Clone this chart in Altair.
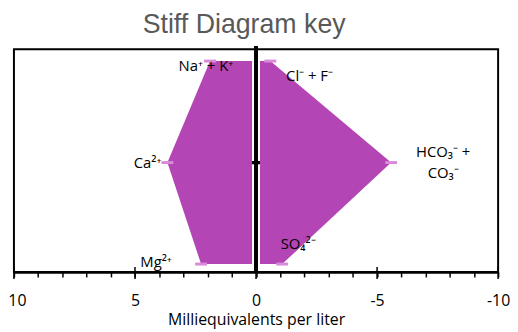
import altair as alt
import pandas as pd

# ---- data ----
rows = [2, 1, 0]                       # Na+K / Cl row, Ca / HCO3 row, Mg / SO4 row
cation_names = ["Na+K", "Ca", "Mg"]
cation_meq = [1.9, 3.66, 2.27]         # plotted to the left (positive)
anion_names = ["Cl+F", "HCO3+CO3", "SO4"]
anion_meq = [-0.59, -5.58, -1.08]      # plotted to the right (negative)

label_text = ["Na⁺ + K⁺", "Ca²⁺", "Mg²⁺", "Cl⁻ + F⁻", "HCO₃⁻ +", "CO₃⁻", "SO₄²⁻"]
label_x = [2.07, 4.48, 4.13, -2.21, -7.73, -7.73, -1.74]
label_y = [1.951, 1.0, 0.02, 1.854, 1.102, 0.898, 0.195]

major_ticks = [10, 5, 0, -5, -10]
minor_ticks = [10, 9, 8, 7, 6, 5, 4, 3, 2, 1, 0, -1, -2, -3, -4, -5, -6, -7, -8, -9, -10]

FILL = "#b445b4"
MARK = "#d98bd9"
FONT = "Open Sans"
Y_LO, Y_HI = -0.078, 2.117

poly = pd.DataFrame({
    "side": ["cation"] * 3 + ["anion"] * 3,
    "y": rows + rows,
    "v": cation_meq + anion_meq,
    "zero": [0] * 6,
})
labels = pd.DataFrame({"t": label_text, "lx": label_x, "ly": label_y})
majors = pd.DataFrame({"m": major_ticks})

xs = alt.Scale(domain=[10, -10], nice=False, zero=False)
ys = alt.Scale(domain=[Y_LO, Y_HI], nice=False, zero=False)
x_axis = alt.Axis(
    title="Milliequivalents per liter", values=minor_ticks,
    labelExpr="abs(datum.value) % 5 == 0 ? '' + datum.value : ''",
    grid=False, tickSize=5, tickWidth=1.5, tickColor="black",
    domainColor="black", domainWidth=2.5, labelFlush=False,
    labelOffset=alt.ExprRef("datum.value == 10 ? 3 : 0"),
    labelFont=FONT, labelFontSize=16, labelColor="black", labelPadding=16,
    titleFont=FONT, titleFontSize=16, titleFontWeight="normal", titleColor="black",
    titlePadding=3,
)


def X(f):
    return alt.X(f, scale=xs, axis=x_axis)


def Y(f):
    return alt.Y(f, scale=ys, axis=None)


def XD(v):
    return alt.XDatum(v, scale=xs, axis=x_axis)


def YD(v):
    return alt.YDatum(v, scale=ys, axis=None)


area = alt.Chart(poly).mark_area(orient="horizontal", color=FILL, opacity=1).encode(
    x=X("v:Q"),
    x2="zero:Q",
    y=Y("y:Q"),
    detail="side:N",
)

white_rule = alt.Chart(poly).mark_rule(color="white", strokeWidth=7).encode(
    x=XD(0), y=YD(2.0), y2=alt.Y2Datum(0.0)
)

markers = alt.Chart(poly).mark_point(
    shape="M-1,-0.25H1V0.25H-1Z", filled=True, size=144, color=MARK, opacity=1
).encode(x=X("v:Q"), y=Y("y:Q"))

zero_rule = alt.Chart(poly).mark_rule(color="black", strokeWidth=3).encode(
    x=XD(0), y=YD(2.145), y2=alt.Y2Datum(Y_LO)
)

center_tick = alt.Chart(poly).mark_tick(
    orient="horizontal", color="black", thickness=3, size=8, opacity=1
).encode(x=XD(0), y=YD(1.0))

major = alt.Chart(majors).mark_tick(
    orient="vertical", color="black", thickness=1.5, size=12, opacity=1, yOffset=1
).encode(x=X("m:Q"), y=YD(Y_LO))

text = alt.Chart(labels).mark_text(
    font=FONT, fontSize=15, color="black", align="center", baseline="middle"
).encode(x=X("lx:Q"), y=Y("ly:Q"), text="t:N")

chart = alt.layer(
    area, white_rule, markers, zero_rule, center_tick, major, text
).properties(
    width=489, height=225,
    autosize=alt.AutoSizeParams(type="none"),
    padding={"left": 6, "top": 40, "right": 12, "bottom": 58},
    title=alt.TitleParams(
        "Stiff Diagram key", font="Liberation Sans", fontSize=27, fontWeight="normal",
        color="#595959", anchor="middle", frame="group", dx=-12, offset=6,
    ),
).configure_view(stroke="black", strokeWidth=2)

chart.save("out.html", embed_options={"renderer": "svg", "actions": False})
